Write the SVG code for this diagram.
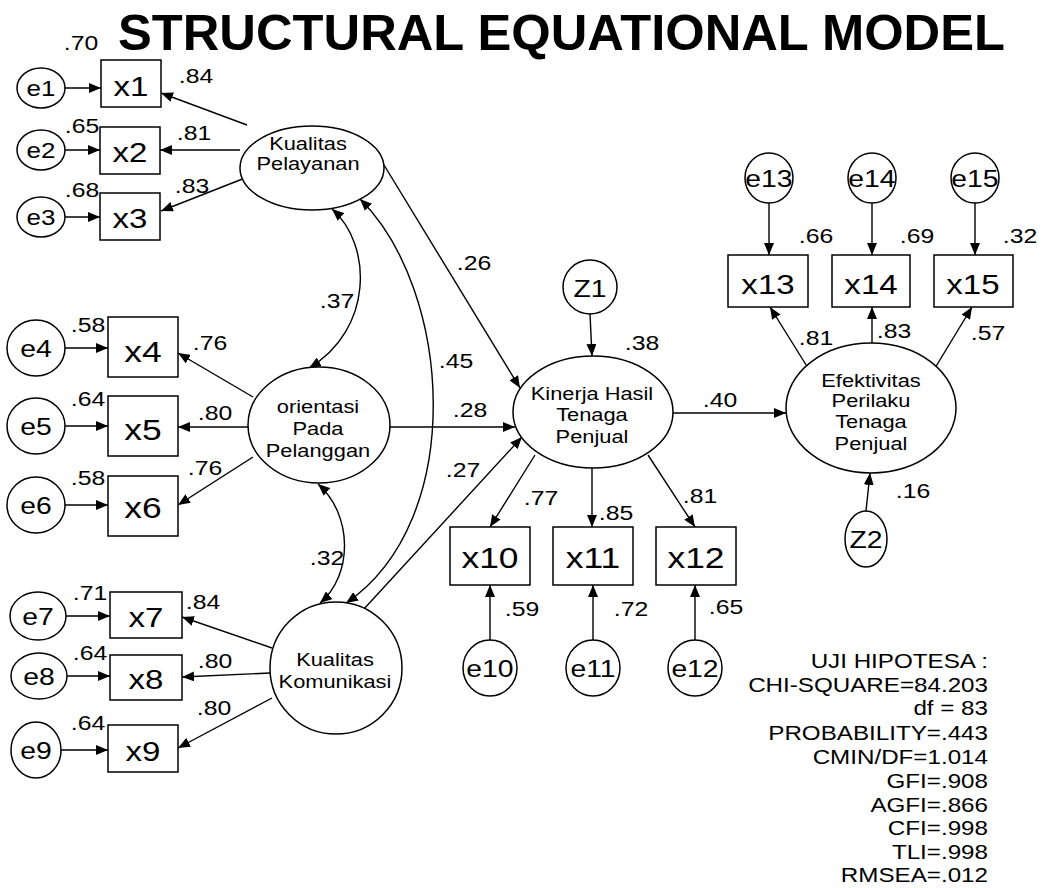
<svg xmlns="http://www.w3.org/2000/svg" width="1041" height="888" viewBox="0 0 1041 888">
<defs>
<style>
text { font-family: "Liberation Sans", Arial, Helvetica, sans-serif; fill: #000; }
.s { text-anchor: middle; transform-box: fill-box; transform-origin: 50% 50%; transform: scaleX(1.18); }
.n { font-size: 21px; }
.lab { font-size: 18.5px; }
.bx { font-size: 28px; }
.bx2 { font-size: 30px; }
.ev { font-size: 22px; }
.ev2 { font-size: 24px; }
.stat { font-size: 20.5px; text-anchor: end; transform-box: fill-box; transform-origin: 100% 50%; transform: scaleX(1.18); }
.title { font-size: 50px; font-weight: bold; }
.node { fill: #fff; stroke: #000; stroke-width: 1.5; }
.c { fill: none; stroke: #000; stroke-width: 1.4; marker-end: url(#ah); }
.d { fill: none; stroke: #000; stroke-width: 1.4; marker-start: url(#ah); marker-end: url(#ah); }
</style>
<marker id="ah" viewBox="0 0 12 10" refX="12" refY="5" markerWidth="12" markerHeight="10" markerUnits="userSpaceOnUse" orient="auto-start-reverse">
<path d="M0,0 L12,5 L0,10 z" fill="#000"/>
</marker>
</defs>
<rect width="1041" height="888" fill="#fff"/>

<text class="title" x="118" y="50" textLength="887" lengthAdjust="spacingAndGlyphs">STRUCTURAL EQUATIONAL MODEL</text>

<g id="connectors">
<path class="c" d="M65,88 L101,88"/>
<path class="c" d="M65,150 L100,150"/>
<path class="c" d="M65,217 L100,217"/>
<path class="c" d="M247,125 L161,93"/>
<path class="c" d="M240,150 L160,150"/>
<path class="c" d="M245,178 L161,211"/>
<path class="c" d="M65,348 L108,348"/>
<path class="c" d="M65,426 L108,426"/>
<path class="c" d="M65,505 L108,505"/>
<path class="c" d="M253,397 L178,353"/>
<path class="c" d="M248,427 L178,427"/>
<path class="c" d="M253,457 L178,505"/>
<path class="c" d="M66,616 L110,616"/>
<path class="c" d="M67,676 L110,676"/>
<path class="c" d="M61,750 L108,750"/>
<path class="c" d="M272,648 L182,617"/>
<path class="c" d="M270,673 L182,677"/>
<path class="c" d="M272,698 L178,748"/>
<path class="d" d="M332,209 C373,245 373,330 309,368"/>
<path class="d" d="M318,484 C353,515 353,575 320,603"/>
<path class="d" d="M360,199 C452,290 468,520 346,603"/>
<path class="c" d="M384,165 L520,388"/>
<path class="c" d="M390,427 L515,427"/>
<path class="c" d="M363,610 L522,437"/>
<path class="c" d="M590,314 L592,356"/>
<path class="c" d="M673,413 L786,413"/>
<path class="c" d="M535,455 L490,527"/>
<path class="c" d="M592,468 L592,527"/>
<path class="c" d="M648,455 L695,527"/>
<path class="c" d="M490,640 L490,585"/>
<path class="c" d="M593,640 L593,585"/>
<path class="c" d="M695,640 L695,585"/>
<path class="c" d="M808,368 L770,307"/>
<path class="c" d="M872,343 L872,307"/>
<path class="c" d="M935,368 L972,307"/>
<path class="c" d="M769,203 L769,255"/>
<path class="c" d="M872,203 L872,255"/>
<path class="c" d="M975,203 L975,255"/>
<path class="c" d="M866,511 L870,473"/>
</g>

<g id="e1"><ellipse class="node" cx="41" cy="88" rx="24" ry="20"/><text class="s ev" x="41" y="96">e1</text></g>
<g id="e2"><ellipse class="node" cx="41" cy="150" rx="24" ry="20"/><text class="s ev" x="41" y="158">e2</text></g>
<g id="e3"><ellipse class="node" cx="41" cy="217" rx="24" ry="20"/><text class="s ev" x="41" y="225">e3</text></g>
<g id="x1"><rect class="node" x="101" y="60" width="60" height="47"/><text class="s bx" x="131" y="96">x1</text></g>
<g id="x2"><rect class="node" x="100" y="127" width="60" height="47"/><text class="s bx" x="130" y="162">x2</text></g>
<g id="x3"><rect class="node" x="100" y="193" width="60" height="47"/><text class="s bx" x="130" y="228">x3</text></g>

<g id="e4"><ellipse class="node" cx="36" cy="348" rx="29" ry="28"/><text class="s ev2" x="36" y="357">e4</text></g>
<g id="e5"><ellipse class="node" cx="36" cy="426" rx="29" ry="28"/><text class="s ev2" x="36" y="435">e5</text></g>
<g id="e6"><ellipse class="node" cx="36" cy="505" rx="29" ry="28"/><text class="s ev2" x="36" y="514">e6</text></g>
<g id="x4"><rect class="node" x="108" y="317" width="70" height="60"/><text class="s bx2" x="143" y="362">x4</text></g>
<g id="x5"><rect class="node" x="108" y="396" width="70" height="60"/><text class="s bx2" x="143" y="440">x5</text></g>
<g id="x6"><rect class="node" x="108" y="476" width="70" height="60"/><text class="s bx2" x="143" y="518">x6</text></g>

<g id="e7"><ellipse class="node" cx="38" cy="616" rx="28" ry="24"/><text class="s ev2" x="38" y="625">e7</text></g>
<g id="e8"><ellipse class="node" cx="39" cy="676" rx="28" ry="23"/><text class="s ev2" x="39" y="685">e8</text></g>
<g id="e9"><ellipse class="node" cx="36" cy="750" rx="25" ry="28"/><text class="s ev2" x="36" y="759">e9</text></g>
<g id="x7"><rect class="node" x="110" y="592" width="72" height="46"/><text class="s bx" x="146" y="627">x7</text></g>
<g id="x8"><rect class="node" x="110" y="655" width="72" height="45"/><text class="s bx" x="146" y="689">x8</text></g>
<g id="x9"><rect class="node" x="108" y="725" width="70" height="47"/><text class="s bx" x="143" y="761">x9</text></g>

<g id="kualitas-pelayanan"><ellipse class="node" cx="312" cy="168" rx="72" ry="42"/><text class="s lab" x="308" y="150">Kualitas</text><text class="s lab" x="308" y="170">Pelayanan</text></g>
<g id="orientasi-pada-pelanggan"><ellipse class="node" cx="319" cy="425" rx="71" ry="58"/><text class="s lab" x="318" y="413">orientasi</text><text class="s lab" x="318" y="435">Pada</text><text class="s lab" x="318" y="457">Pelanggan</text></g>
<g id="kualitas-komunikasi"><circle class="node" cx="336" cy="668" r="66"/><text class="s lab" x="335" y="666">Kualitas</text><text class="s lab" x="335" y="688">Komunikasi</text></g>

<g id="z1"><circle class="node" cx="590" cy="287" r="27"/><text class="s ev2" x="590" y="297">Z1</text></g>
<g id="kinerja"><ellipse class="node" cx="593" cy="412" rx="80" ry="56"/><text class="s lab" x="592" y="400">Kinerja Hasil</text><text class="s lab" x="592" y="421">Tenaga</text><text class="s lab" x="592" y="443">Penjual</text></g>
<g id="x10"><rect class="node" x="450" y="527" width="80" height="58"/><text class="s bx2" x="490" y="568">x10</text></g>
<g id="x11"><rect class="node" x="553" y="527" width="80" height="58"/><text class="s bx2" x="593" y="568">x11</text></g>
<g id="x12"><rect class="node" x="656" y="527" width="80" height="58"/><text class="s bx2" x="696" y="568">x12</text></g>
<g id="e10"><ellipse class="node" cx="490" cy="668" rx="27" ry="28"/><text class="s ev2" x="490" y="677">e10</text></g>
<g id="e11"><ellipse class="node" cx="593" cy="668" rx="27" ry="28"/><text class="s ev2" x="593" y="677">e11</text></g>
<g id="e12"><ellipse class="node" cx="695" cy="668" rx="27" ry="28"/><text class="s ev2" x="695" y="677">e12</text></g>

<g id="efektivitas"><ellipse class="node" cx="871" cy="408" rx="85" ry="65"/><text class="s lab" x="871" y="387">Efektivitas</text><text class="s lab" x="871" y="407">Perilaku</text><text class="s lab" x="871" y="428">Tenaga</text><text class="s lab" x="871" y="450">Penjual</text></g>
<g id="e13"><ellipse class="node" cx="769" cy="178" rx="24" ry="25"/><text class="s ev2" x="769" y="187">e13</text></g>
<g id="e14"><ellipse class="node" cx="872" cy="178" rx="24" ry="25"/><text class="s ev2" x="872" y="187">e14</text></g>
<g id="e15"><ellipse class="node" cx="975" cy="178" rx="24" ry="25"/><text class="s ev2" x="975" y="187">e15</text></g>
<g id="x13"><rect class="node" x="728" y="255" width="80" height="52"/><text class="s bx" x="768" y="294">x13</text></g>
<g id="x14"><rect class="node" x="832" y="255" width="78" height="52"/><text class="s bx" x="871" y="294">x14</text></g>
<g id="x15"><rect class="node" x="934" y="255" width="79" height="52"/><text class="s bx" x="973" y="294">x15</text></g>
<g id="z2"><ellipse class="node" cx="866" cy="539" rx="21" ry="28"/><text class="s ev2" x="866" y="548">Z2</text></g>

<g id="labels">
<text class="s n" x="81" y="50">.70</text>
<text class="s n" x="82" y="133">.65</text>
<text class="s n" x="82" y="197">.68</text>
<text class="s n" x="196" y="83">.84</text>
<text class="s n" x="194" y="140">.81</text>
<text class="s n" x="192" y="193">.83</text>
<text class="s n" x="88" y="332">.58</text>
<text class="s n" x="88" y="406">.64</text>
<text class="s n" x="88" y="485">.58</text>
<text class="s n" x="210" y="350">.76</text>
<text class="s n" x="215" y="420">.80</text>
<text class="s n" x="205" y="475">.76</text>
<text class="s n" x="90" y="600">.71</text>
<text class="s n" x="90" y="660">.64</text>
<text class="s n" x="88" y="730">.64</text>
<text class="s n" x="203" y="609">.84</text>
<text class="s n" x="215" y="668">.80</text>
<text class="s n" x="214" y="715">.80</text>
<text class="s n" x="337" y="308">.37</text>
<text class="s n" x="327" y="565">.32</text>
<text class="s n" x="456" y="368">.45</text>
<text class="s n" x="474" y="270">.26</text>
<text class="s n" x="470" y="417">.28</text>
<text class="s n" x="463" y="477">.27</text>
<text class="s n" x="642" y="350">.38</text>
<text class="s n" x="720" y="407">.40</text>
<text class="s n" x="541" y="505">.77</text>
<text class="s n" x="616" y="520">.85</text>
<text class="s n" x="700" y="503">.81</text>
<text class="s n" x="522" y="616">.59</text>
<text class="s n" x="631" y="616">.72</text>
<text class="s n" x="726" y="614">.65</text>
<text class="s n" x="816" y="243">.66</text>
<text class="s n" x="917" y="243">.69</text>
<text class="s n" x="1020" y="243">.32</text>
<text class="s n" x="816" y="345">.81</text>
<text class="s n" x="894" y="338">.83</text>
<text class="s n" x="988" y="340">.57</text>
<text class="s n" x="913" y="498">.16</text>
</g>

<g id="fit-statistics">
<text class="stat" x="988" y="668">UJI HIPOTESA :</text>
<text class="stat" x="988" y="692">CHI-SQUARE=84.203</text>
<text class="stat" x="988" y="715">df = 83</text>
<text class="stat" x="988" y="740">PROBABILITY=.443</text>
<text class="stat" x="988" y="764">CMIN/DF=1.014</text>
<text class="stat" x="988" y="788">GFI=.908</text>
<text class="stat" x="988" y="812">AGFI=.866</text>
<text class="stat" x="988" y="835">CFI=.998</text>
<text class="stat" x="988" y="859">TLI=.998</text>
<text class="stat" x="988" y="882">RMSEA=.012</text>
</g>
</svg>
